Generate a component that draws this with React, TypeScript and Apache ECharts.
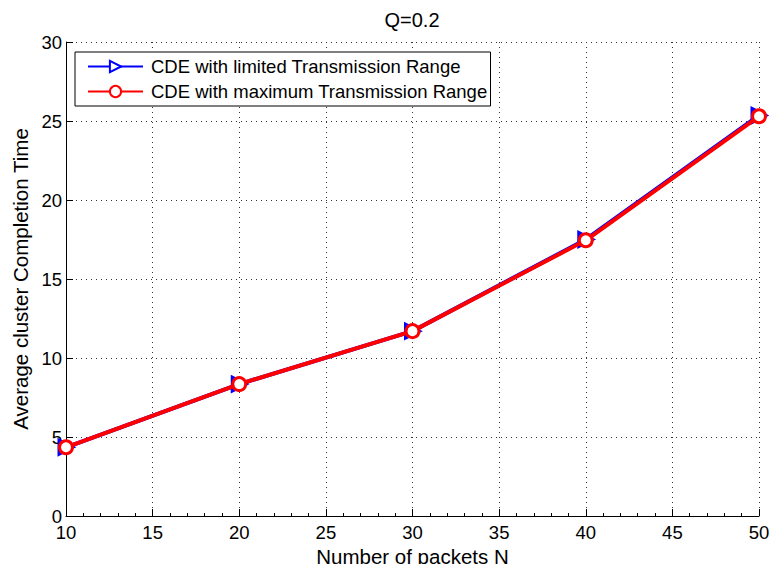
import React, { useEffect, useRef } from "react";
import * as echarts from "echarts";

const packets = [10, 20, 30, 40, 50];
const limitedRange = [4.35, 8.35, 11.7, 17.5, 25.35];
const maximumRange = [4.35, 8.35, 11.7, 17.45, 25.3];
const seriesNames = ["CDE with limited Transmission Range", "CDE with maximum Transmission Range"];
const titleText = "Q=0.2";
const xName = "Number of packets N";
const yName = "Average cluster Completion Time";

const FONT = "Liberation Sans, Arial, Helvetica, sans-serif";
const FS = 18.5;
const FS_NAME = 20.5;

export default function App() {
  const ref = useRef<HTMLDivElement>(null);
  useEffect(() => {
    if (!ref.current) return;
    const chart = echarts.init(ref.current, undefined, { renderer: "svg" });
    const axisCommon = {
      axisLine: { show: true, lineStyle: { color: "#000", width: 1 } },
      axisTick: { show: true, inside: true, length: 7, lineStyle: { color: "#000" } },
      axisLabel: { color: "#000", fontSize: FS, fontFamily: FONT, lineHeight: 14 },
      splitLine: { show: true, lineStyle: { color: "#333", type: [1, 4], width: 1 } },
      nameTextStyle: { color: "#000", fontSize: FS_NAME, fontFamily: FONT, lineHeight: 20 },
    };
    chart.setOption({
      animation: false,
      backgroundColor: "#fff",
      title: {
        text: titleText,
        left: 412,
        textAlign: "center",
        top: 10,
        padding: 0,
        textStyle: { color: "#000", fontSize: 20, fontWeight: "normal", fontFamily: FONT },
      },
      grid: { left: 66, right: 11, top: 42, bottom: 48, containLabel: false, outerBoundsMode: "none" },
      legend: {
        orient: "vertical",
        left: 75,
        top: 52,
        padding: [5, 3, 5, 12],
        itemWidth: 55,
        itemHeight: 14,
        itemGap: 6,
        borderColor: "#000",
        borderWidth: 1,
        backgroundColor: "#fff",
        textStyle: { color: "#000", fontSize: FS, fontFamily: FONT, padding: [0, 0, 0, 3] },
        data: seriesNames,
      },
      xAxis: {
        type: "value",
        min: 10,
        max: 50,
        interval: 5,
        name: xName,
        nameLocation: "middle",
        nameGap: 21,
        ...axisCommon,
        axisLabel: { ...axisCommon.axisLabel, margin: 9 },
        minorTick: { show: true, splitNumber: 5, length: 3, lineStyle: { color: "#000" } },
      },
      yAxis: {
        type: "value",
        min: 0,
        max: 30,
        interval: 5,
        name: yName,
        nameLocation: "middle",
        nameGap: 36,
        ...axisCommon,
        axisLabel: { ...axisCommon.axisLabel, margin: 4 },
      },
      series: [
        {
          name: seriesNames[0],
          type: "line",
          data: packets.map((x, i) => [x, limitedRange[i]]),
          symbol: "triangle",
          symbolRotate: -90,
          symbolSize: 14,
          showAllSymbol: true,
          lineStyle: { color: "#0000ff", width: 4 },
          itemStyle: { color: "#fff", borderColor: "#0000ff", borderWidth: 3 },
          z: 2,
        },
        {
          name: seriesNames[1],
          type: "line",
          data: packets.map((x, i) => [x, maximumRange[i]]),
          symbol: "circle",
          symbolSize: 13,
          showAllSymbol: true,
          lineStyle: { color: "#ff0000", width: 4 },
          itemStyle: { color: "#fff", borderColor: "#ff0000", borderWidth: 3 },
          z: 3,
        },
      ],
    });
    return () => chart.dispose();
  }, []);
  return (
    <div
      ref={ref}
      style={{ position: "fixed", left: 0, top: 0, width: 770, height: 564, background: "#fff" }}
    />
  );
}
